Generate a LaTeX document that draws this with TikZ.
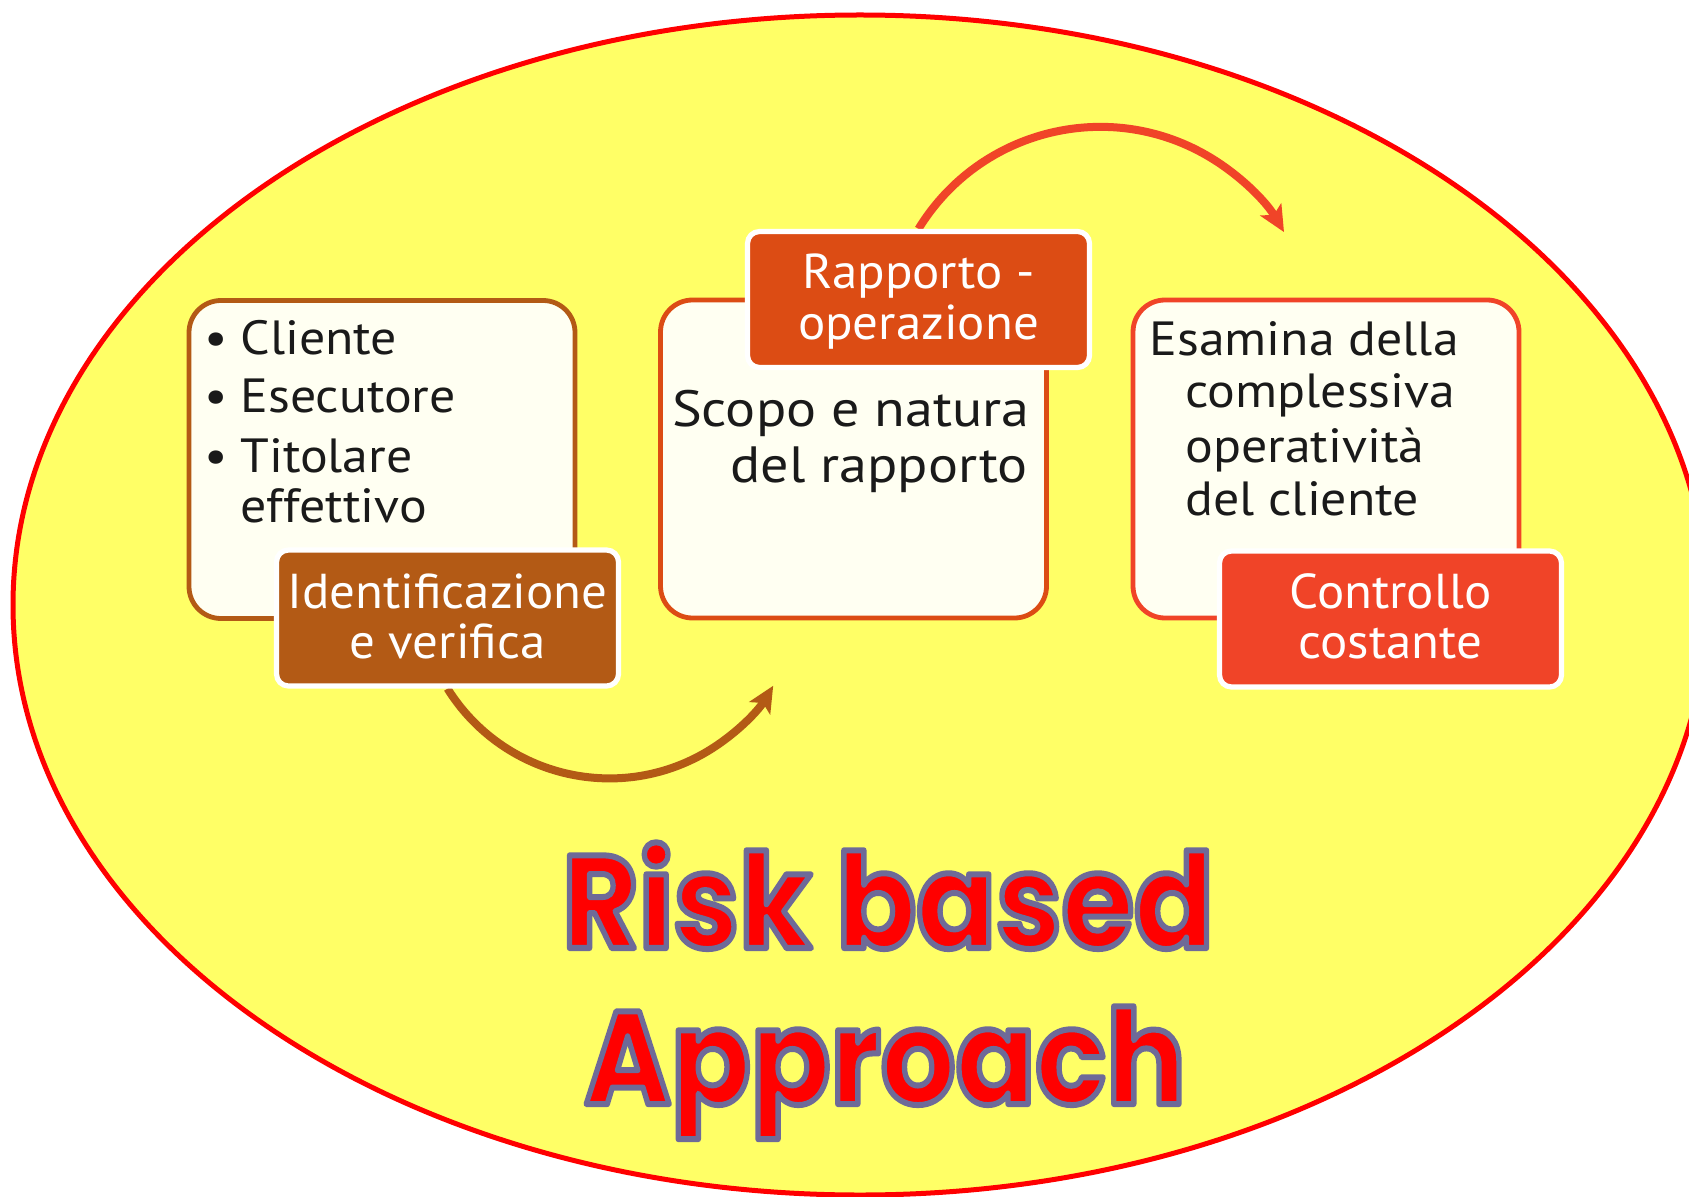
\documentclass[tikz,border=0pt]{standalone}
\usepackage{fontspec}
\setmainfont{PT Sans}
\newfontfamily\bodyfont{PT Sans}[FakeStretch=1.08]
\newfontfamily\boxbfont{PT Sans}[FakeStretch=1.10]
\newfontfamily\tagfont{PT Sans}[FakeStretch=1.04]
\newfontfamily\titlefont{Poppins}
\usetikzlibrary{arrows.meta,backgrounds}
\definecolor{ellyellow}{HTML}{FFFF66}
\definecolor{ellred}{HTML}{FF0000}
\definecolor{boxfill}{HTML}{FFFFF2}
\definecolor{cbrown}{HTML}{B35A15}
\definecolor{corange}{HTML}{DC4C14}
\definecolor{cred}{HTML}{F04428}
\definecolor{ctext}{HTML}{1A1A1A}
\newcommand\outlinedtext[1]{\special{pdf:literal direct 2 Tr 3 w 1 j 0.431 0.416 0.596 RG}#1\special{pdf:literal direct 0 Tr}}
\begin{document}
\begin{tikzpicture}[x=0.5pt,y=-0.5pt,
  panelbox/.style={draw=#1, line width=2.4pt, fill=boxfill, rounded corners=16pt,
    minimum width=193pt, minimum height=159pt, inner sep=0pt},
  tagbox/.style={draw=white, line width=2.6pt, fill=#1, rounded corners=6pt,
    minimum width=171pt, minimum height=68pt, inner sep=0pt},
  bodytxt/.style={text=ctext, font=\bodyfont\fontsize{24}{28}\selectfont, inner sep=0pt},
  bodytxtb/.style={text=ctext, font=\boxbfont\fontsize{25.5}{30}\selectfont, inner sep=0pt},
  tagtxt/.style={text=white, font=\tagfont\fontsize{24.5}{28}\selectfont, inner sep=0pt, anchor=base},
  titletxt/.style={text=red, font=\titlefont\bfseries\fontsize{66}{70}\selectfont, inner sep=0pt, anchor=base},
  curvarrow/.style={line width=4pt, draw=#1, -{Stealth[length=13pt,width=12pt,inset=3pt]}},
  ]
\useasboundingbox (0,0) rectangle (1689,1197);
\begin{scope}[on background layer]
  \clip (0,0) rectangle (1689,1197);
  \draw[draw=ellred, fill=ellyellow, line width=2.5pt] (860,605) ellipse [x radius=423.5pt, y radius=295pt];
\end{scope}

% boxes
\node[panelbox=cbrown] (box1) at (382,459.5) {};
\node[tagbox=cbrown] (lab1) at (447.5,618) {};
\node[panelbox=corange] (box2) at (853.5,459) {};
\node[tagbox=corange] (lab2) at (918.5,299.5) {};
\node[panelbox=cred] (box3) at (1326,459) {};
\node[tagbox=cred] (lab3) at (1390.5,619) {};

% box 1 text
\node[bodytxt, anchor=base] (bu1) at (216,355) {•};
\node[bodytxt, anchor=base west] (it1) at (240,355) {Cliente};
\node[bodytxt, anchor=base] (bu2) at (216,413) {•};
\node[bodytxt, anchor=base west] (it2) at (240,413) {Esecutore};
\node[bodytxt, anchor=base] (bu3) at (216,472) {•};
\node[bodytxt, anchor=base west] (it3) at (240,472) {Titolare};
\node[bodytxt, anchor=base west] (it4) at (240,522) {effettivo};

% box 2 text
\node[bodytxtb, anchor=base east] (sc1) at (1030,427) {Scopo e natura};
\node[bodytxtb, anchor=base east] (sc2) at (1028,482) {del rapporto};

% box 3 text
\node[bodytxt, anchor=base west] (es1) at (1149,356) {Esamina della};
\node[bodytxt, anchor=base west] (es2) at (1185,408) {complessiva};
\node[bodytxt, anchor=base west] (es3) at (1185,462) {operatività};
\node[bodytxt, anchor=base west] (es4) at (1185,515) {del cliente};

% label texts
\node[tagtxt] (l1a) at (447.5,608) {Identificazione};
\node[tagtxt] (l1b) at (447.5,658) {e verifica};
\node[tagtxt] (l2a) at (918.5,289) {Rapporto -};
\node[tagtxt] (l2b) at (918.5,340) {operazione};
\node[tagtxt] (l3a) at (1390.5,608) {Controllo};
\node[tagtxt] (l3b) at (1390.5,658) {costante};

% title
\node[titletxt] (ti1) at (888,948) {\scalebox{0.89}[1]{\outlinedtext{Risk based}}};
\node[titletxt] (ti2) at (885,1104) {\scalebox{0.89}[1]{\outlinedtext{Approach}}};

% arrows
\begin{scope}[on background layer]
  \draw[curvarrow=cbrown] (lab1.south) arc[start angle=212, end angle=329, radius=95.5pt];
  \draw[curvarrow=cred] (lab2.north) arc[start angle=148.6, end angle=30.4, radius=106.5pt];
\end{scope}
\end{tikzpicture}
\end{document}
